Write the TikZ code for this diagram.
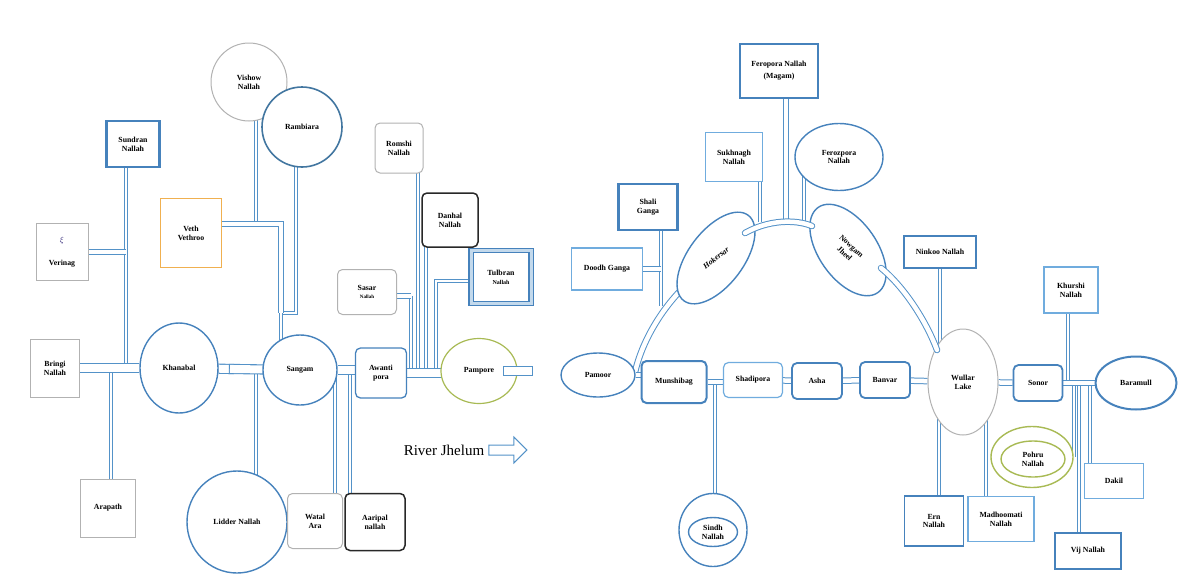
\documentclass[tikz,border=0pt]{standalone}
\usepackage{fontspec}
\setmainfont{Liberation Serif}
\usetikzlibrary{
	positioning,
	backgrounds,
	shapes.geometric,
	shapes.arrows
}
\usepackage{xcolor}

\definecolor{riverblue}{RGB}{84,146,200}
\definecolor{boxblue}{RGB}{70,130,188}
\definecolor{lightblue}{RGB}{112,172,222}
\definecolor{ramblue}{RGB}{66,118,160}
\definecolor{boxgray}{RGB}{178,178,178}
\definecolor{vethorange}{RGB}{240,176,80}
\definecolor{olive}{RGB}{168,186,84}
\definecolor{darkline}{RGB}{40,40,40}
\definecolor{xiblue}{RGB}{50,40,120}

\begin{document}
\begin{tikzpicture}[x=1pt,y=-1pt,
		every node/.style={font=\fontsize{7.8}{8.8}\selectfont\bfseries, align=center, fill=white, inner sep=1pt},
		tbox/.style={rectangle, draw=lightblue, line width=1.1pt},
		mbox/.style={rectangle, draw=boxblue, line width=1.6pt},
		kbox/.style={rectangle, draw=boxblue, line width=2.2pt},
		gbox/.style={rectangle, draw=boxgray, line width=1pt},
		rbox/.style={rectangle, rounded corners=5pt, draw=boxblue, line width=1.6pt},
		grbox/.style={rectangle, rounded corners=5pt, draw=boxgray, line width=1pt},
		drbox/.style={rectangle, rounded corners=5pt, draw=darkline, line width=1.5pt},
		tulframe/.style={rectangle, draw=boxblue, line width=1.2pt, double=riverblue!35!white, double distance=3pt},
		lake/.style={ellipse, draw=boxblue, line width=1.4pt},
		glake/.style={ellipse, draw=boxgray, line width=1pt},
		olake/.style={ellipse, draw=olive, line width=1.4pt},
		trib/.style={draw=riverblue, line width=0.9pt, double=white, double distance=2.4pt},
		sband/.style={draw=riverblue, line width=1pt, double=white, double distance=4.5pt},
		band/.style={draw=riverblue, line width=1.1pt, double=white, double distance=8pt},
		cband/.style={sband, line cap=round}
	]
	
	\useasboundingbox (0,0) rectangle (1197,576);
	
	% upper Jhelum: Verinag to Pampore
	\node[gbox, minimum width=52, minimum height=57] (verinag) at (62,252) {{\color{xiblue}$\xi$}\\[14pt]Verinag};
	\node[gbox, minimum width=49, minimum height=58] (bringi) at (55,368) {Bringi\\Nallah};
	\node[gbox, minimum width=55, minimum height=58] (arapath) at (108,508) {Arapath};
	
	\node[kbox, minimum width=53, minimum height=46] (sundran) at (133,144) {Sundran\\Nallah};
	\node[rectangle, draw=vethorange, line width=1.4pt, minimum width=61, minimum height=69] (veth) at (191,233) {Veth\\Vethroo};
	\node[glake, minimum width=76, minimum height=78] (vishow) at (249,82) {Vishow\\Nallah};
	\node[lake, draw=ramblue, line width=1.6pt, minimum size=80] (rambiara) at (302,127) {Rambiara};
	\node[lake, minimum width=78, minimum height=90] (khanabal) at (179,368) {Khanabal};
	\node[lake, minimum width=100, minimum height=102] (lidder) at (237,522) {Lidder Nallah};
	\node[lake, minimum width=74, minimum height=70] (sangam) at (300,370) {Sangam};
	\node[rbox, line width=1.3pt, minimum width=51, minimum height=50] (awanti) at (381,373) {Awanti\\pora};
	\node[olake, line width=1.2pt, minimum width=76, minimum height=65] (pampore) at (479,371) {Pampore};
	
	\node[grbox, minimum width=55, minimum height=55] (watal) at (315,521) {Watal\\Ara};
	\node[grbox, minimum width=48, minimum height=50] (romshi) at (399,148) {Romshi\\Nallah};
	\node[grbox, minimum width=59, minimum height=45] (sasar) at (367,292) {Sasar\\{\fontsize{5}{6}\selectfont Nallah}};
	
	\node[drbox, minimum width=60, minimum height=57] (aaripal) at (375,522) {Aaripal\\nallah};
	\node[drbox, minimum width=56, minimum height=54] (danhal) at (450,220) {Danhal\\Nallah};
	\node[tulframe, minimum width=60, minimum height=53] (tulbran) at (501,277) {Tulbran\\{\fontsize{6}{7}\selectfont Nallah}};
	
	\node[font=\fontsize{15}{16}\selectfont] (jhelum) at (444,450) {River Jhelum};
	\node[single arrow, draw=riverblue, line width=1pt, inner sep=4.5pt, minimum height=38, single arrow head extend=8, right=3pt of jhelum] (flow) {};
	
	% lower Jhelum: Pamoor to Baramull
	\node[lake, minimum width=74, minimum height=44] (pamoor) at (598,375) {Pamoor};
	\node[rbox, line width=2pt, minimum width=65, minimum height=42] (munshibag) at (674,382) {Munshibag};
	\node[rbox, draw=lightblue, line width=1.2pt, minimum width=59, minimum height=35] (shadipora) at (753,380) {Shadipora};
	\node[rbox, line width=1.8pt, minimum width=50, minimum height=36] (asha) at (817,381) {Asha};
	\node[rbox, line width=1.8pt, minimum width=50, minimum height=36] (banvar) at (885,380) {Banvar};
	\node[glake, minimum width=70, minimum height=106] (wullar) at (963,382) {Wullar\\Lake};
	\node[rbox, line width=1.8pt, minimum width=49, minimum height=36] (sonor) at (1038,383) {Sonor};
	\node[lake, line width=2pt, minimum width=81, minimum height=53] (baramull) at (1136,383) {Baramull};
	
	\node[lake, minimum width=68, minimum height=73] (sindhring) at (713,530) {};
	\node[lake, minimum width=49, minimum height=29] (sindh) at (713,532) {Sindh\\Nallah};
	\node[olake, minimum width=82, minimum height=61] (pohruring) at (1032,457) {};
	\node[olake, minimum width=64, minimum height=36] (pohru) at (1033,459) {Pohru\\Nallah};
	
	\node[tbox, minimum width=54, minimum height=46] (khurshi) at (1071,290) {Khurshi\\Nallah};
	\node[tbox, minimum width=66, minimum height=45] (madhoomati) at (1001,519) {Madhoomati\\Nallah};
	\node[tbox, minimum width=59, minimum height=35] (dakil) at (1114,481) {Dakil};
	\node[tbox, minimum width=57, minimum height=49] (sukhnagh) at (734,157) {Sukhnagh\\Nallah};
	\node[tbox, minimum width=71, minimum height=42] (doodh) at (607,269) {Doodh Ganga};
	
	\node[kbox, minimum width=72, minimum height=32] (ninkoo) at (940,252) {Ninkoo Nallah};
	\node[kbox, minimum width=78, minimum height=54] (magam) at (779,71) {Feropora Nallah\\[3pt](Magam)};
	\node[kbox, minimum width=59, minimum height=46] (shali) at (648,207) {Shali\\Ganga};
	\node[mbox, minimum width=59, minimum height=50] (ern) at (934,521) {Ern\\Nallah};
	\node[mbox, minimum width=66, minimum height=36] (vij) at (1088,551) {Vij Nallah};
	\node[lake, minimum width=88, minimum height=67] (ferozpora) at (839,157) {Ferozpora\\Nallah};
	\node[lake, rotate=53, minimum width=107, minimum height=55, font=\fontsize{7.8}{8.8}\selectfont\bfseries\itshape] (hokersar) at (716,258) {\rotatebox{-15}{Hokersar}};
	\node[lake, rotate=-55, minimum width=104, minimum height=58] (nowgam) at (848,250) {\rotatebox{12}{\shortstack{Nowgam\\Jheel}}};
	
	% bends and joins
	\coordinate (vethbend) at (281,224);
	\coordinate (ramjoin) at (281,313);
	\coordinate (lbjoin) at (234,369);
	\coordinate (sasarbend) at (411,296);
	\coordinate (tulbend) at (436,281);
	\coordinate (hokfoot) at (686,285);
	\coordinate (pamoorjoin) at (634,377);
	\coordinate (shalifoot) at (661,306);
	\coordinate (hokne) at (745,233);
	\coordinate (nowgw) at (812,226);
	\coordinate (nowgse) at (881,268);
	\coordinate (wullarnw) at (937,350);
	\coordinate (arctop) at (786,222);
	
	\begin{scope}[on background layer]
		% tributaries
		\draw[trib] ([xshift=-7]sundran.center) -- ([xshift=-7]sundran.center |- bringi);
		\draw[trib] ([xshift=3]arapath.center) -- ([xshift=3]arapath.center |- bringi);
		\draw[trib] ([xshift=19]lidder.center) -- ([xshift=19]lidder.center |- khanabal);
		\draw[trib] ([xshift=7]vishow.center) -- ([xshift=7]vishow.center |- vethbend);
		\draw[trib] ([xshift=-6]rambiara.center) -- ([xshift=-6]rambiara.center |- ramjoin) -- (ramjoin);
		\draw[trib] (ramjoin) -- (ramjoin |- sangam);
		\draw[trib] ([xshift=20]watal.center) -- ([xshift=20]watal.center |- sangam);
		\draw[trib] ([xshift=-25]aaripal.center) -- ([xshift=-25]aaripal.center |- sangam);
		\draw[trib] ([xshift=19]romshi.center) -- ([xshift=19]romshi.center |- awanti);
		\draw[trib] ([xshift=-24]danhal.center) -- ([xshift=-24]danhal.center |- awanti);
		\draw[trib] (sasarbend) -- (sasarbend |- awanti);
		\draw[trib] (tulbran.center |- tulbend) -- (tulbend) -- (tulbend |- awanti);
		
		\draw[trib] ([xshift=13]shali.center) -- ([xshift=13]shali.center |- shalifoot);
		\draw[trib] ([xshift=26]sukhnagh.center) -- ([xshift=26]sukhnagh.center |- arctop);
		\draw[sband] ([xshift=7]magam.center) -- ([xshift=7]magam.center |- arctop);
		\draw[trib] ([xshift=-35]ferozpora.center) -- ([xshift=-35]ferozpora.center |- arctop);
		\draw[trib] ([xshift=2]sindhring.center) -- ([xshift=2]sindhring.center |- munshibag);
		\draw[trib] (ninkoo) -- (ninkoo |- wullar);
		\draw[trib] ([xshift=5]ern.center) -- ([xshift=5]ern.center |- wullar);
		\draw[trib] ([xshift=-15]madhoomati.center) -- ([xshift=-15]madhoomati.center |- wullar);
		\draw[trib] ([xshift=-3]khurshi.center) -- ([xshift=-3]khurshi.center |- sonor);
		\draw[trib] (pohruring.east |- sonor) -- (pohruring.east);
		\draw[trib] ([xshift=-9]vij.center) -- ([xshift=-9]vij.center |- sonor);
		\draw[trib] ([xshift=-24]dakil.center) -- ([xshift=-24]dakil.center |- sonor);
		
		\draw[sband] (verinag) -- ([xshift=-7]sundran.center |- verinag);
		\draw[sband] (veth |- vethbend) -- (vethbend) -- (ramjoin);
		\draw[sband] (sasar.center |- sasarbend) -- (sasarbend);
		\draw[sband] (doodh) -- (doodh -| shalifoot);
		\draw[sband] (hokfoot) .. controls (660,310) and (640,345) .. (pamoorjoin);
		
		% main river
		\draw[band] (bringi) -- (khanabal);
		\draw[band] (khanabal) -- (lbjoin);
		\draw[band, line cap=rect] (lbjoin) -- (sangam);
		\draw[band] (sangam) -- (sangam -| awanti);
		\draw[band] (awanti) -- (awanti -| pampore);
		
		\draw[sband] (pamoor) -- (pamoor -| munshibag);
		\draw[sband] (munshibag) -- (munshibag -| shadipora);
		\draw[sband] (shadipora) -- (asha);
		\draw[sband] (asha) -- (banvar);
		\draw[sband] (banvar) -- (wullar);
		\draw[sband] (wullar) -- (sonor);
		\draw[sband] (sonor) -- (baramull);
	\end{scope}
	
	% links over the lakes
	\draw[band, line cap=rect] ([xshift=29]pampore.center) -- ([xshift=49]pampore.center);
	\draw[cband] (hokne) .. controls (768,220) and (795,219) .. (nowgw);
	\draw[cband] (nowgse) .. controls (902,285) and (925,318) .. (wullarnw);
	
\end{tikzpicture}
\end{document}
